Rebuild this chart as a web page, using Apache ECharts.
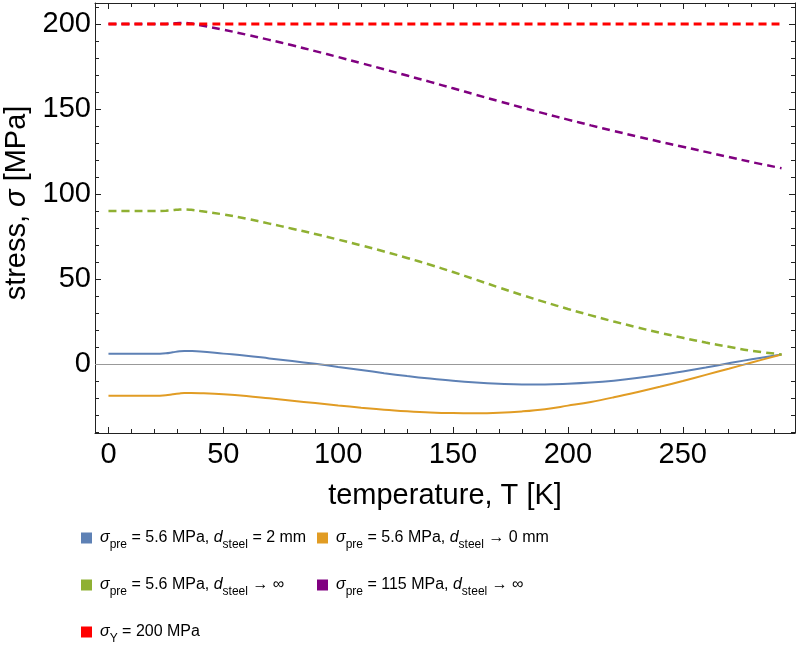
<!DOCTYPE html>
<html>
<head>
<meta charset="utf-8">
<script src="https://cdn.jsdelivr.net/npm/echarts@6/dist/echarts.min.js"></script>
<style>
html,body{margin:0;padding:0;background:#fff;}
#chart{width:796px;height:648px;}
</style>
</head>
<body>
<div id="chart"></div>
<script>
// ---- data ----
var tempK = [0, 10, 20, 25, 28, 31, 33, 36, 40, 50, 60, 70, 80, 90, 100, 110, 120, 130, 140, 150, 160, 170, 180, 190, 200, 210, 220, 230, 240, 250, 260, 270, 280, 293];
var stressSteel2mm = [6.0, 6.0, 6.0, 6.3, 6.9, 7.5, 7.7, 7.6, 7.3, 6.1, 4.9, 3.3, 1.7, 0.1, -1.7, -3.5, -5.4, -7.1, -8.6, -9.9, -10.9, -11.6, -12.0, -12.0, -11.6, -10.9, -9.8, -8.3, -6.5, -4.4, -2.1, 0.4, 2.8, 5.6];
var stressSteel0mm = [-18.7, -18.7, -18.7, -18.4, -17.8, -17.3, -17.1, -17.1, -17.2, -17.8, -18.8, -20.2, -21.6, -23.0, -24.4, -25.7, -26.9, -27.8, -28.5, -28.9, -29.0, -28.7, -27.9, -26.6, -24.5, -22.3, -19.6, -16.6, -13.4, -10.0, -6.4, -2.8, 0.9, 5.6];
var stressSteelInf = [90.0, 90.0, 90.0, 90.2, 90.5, 90.9, 91.0, 90.7, 90.0, 88.0, 85.5, 82.6, 79.6, 76.5, 73.2, 69.8, 66.2, 62.4, 58.4, 54.1, 49.6, 45.0, 40.6, 36.4, 32.4, 28.6, 25.0, 21.6, 18.4, 15.4, 12.6, 10.1, 7.8, 5.6];
var stressPre115 = [200.0, 200.0, 200.0, 200.1, 200.3, 200.6, 200.7, 200.3, 199.3, 196.7, 193.8, 190.7, 187.5, 184.1, 180.6, 177.0, 173.4, 169.7, 166.0, 162.2, 158.4, 154.6, 150.9, 147.3, 143.8, 140.4, 137.1, 133.9, 130.8, 127.8, 124.8, 121.8, 118.8, 115.2];
var yieldT = [0, 293];
var yieldStress = [200, 200];

var xMajorTicks = [0, 50, 100, 150, 200, 250];
var xMinorTicks = [10, 20, 30, 40, 60, 70, 80, 90, 110, 120, 130, 140, 160, 170, 180, 190, 210, 220, 230, 240, 260, 270, 280, 290];
var yMajorTicks = [0, 50, 100, 150, 200];
var yMinorTicks = [-40, -30, -20, -10, 10, 20, 30, 40, 60, 70, 80, 90, 110, 120, 130, 140, 160, 170, 180, 190, 210];

var legendLabels = {
  blue2mm: '{i|σ}{sub|pre}{n| = 5.6 MPa, }{i|d}{sub|steel}{n| = 2 mm}',
  orange0mm: '{i|σ}{sub|pre}{n| = 5.6 MPa, }{i|d}{sub|steel}{n| → 0 mm}',
  greenInf: '{i|σ}{sub|pre}{n| = 5.6 MPa, }{i|d}{sub|steel}{n| → ∞}',
  purpleInf: '{i|σ}{sub|pre}{n| = 115 MPa, }{i|d}{sub|steel}{n| → ∞}',
  redYield: '{i|σ}{sub|Y}{n| = 200 MPa}'
};

var X_MIN = -5.86, X_MAX = 298.86, Y_MIN = -40.6, Y_MAX = 212.4;
var FONT = '"Liberation Sans", Arial, sans-serif';
var AXFS = 29;
var LGFS = 16;

function zip(xs, ys) { return xs.map(function (x, i) { return [x, ys[i]]; }); }

var chart = echarts.init(document.getElementById('chart'), null, {renderer: 'canvas'});

function xAx(pos, major, showLine, label) {
  return {
    type: 'value', position: pos, min: X_MIN, max: X_MAX,
    axisLine: {show: showLine, onZero: false, lineStyle: {color: '#222', width: 1}},
    axisTick: {show: true, inside: true, length: major ? 6 : 4, customValues: major ? xMajorTicks : xMinorTicks, lineStyle: {color: '#222'}},
    axisLabel: label ? {show: true, customValues: xMajorTicks, fontSize: AXFS, color: '#000', fontFamily: FONT, margin: 7} : {show: false},
    splitLine: {show: false}
  };
}
function yAx(pos, major, showLine, label) {
  return {
    type: 'value', position: pos, min: Y_MIN, max: Y_MAX,
    axisLine: {show: showLine, onZero: false, lineStyle: {color: '#222', width: 1}},
    axisTick: {show: true, inside: true, length: major ? 6 : 4, customValues: major ? yMajorTicks : yMinorTicks, lineStyle: {color: '#222'}},
    axisLabel: label ? {show: true, customValues: yMajorTicks, fontSize: AXFS, color: '#000', fontFamily: FONT, margin: 4} : {show: false},
    splitLine: {show: false}
  };
}

var xAxes = [xAx('bottom', true, true, true), xAx('bottom', false, false, false), xAx('top', true, true, false), xAx('top', false, false, false)];
xAxes[0].name = 'temperature, T [K]';
xAxes[0].nameLocation = 'middle';
xAxes[0].nameGap = 48;
xAxes[0].nameTextStyle = {fontSize: AXFS, color: '#000', fontFamily: FONT};

var yAxes = [yAx('left', true, true, true), yAx('left', false, false, false), yAx('right', true, true, false), yAx('right', false, false, false)];
yAxes[0].name = '{n|stress, }{i|σ}{n| [MPa]}';
yAxes[0].nameLocation = 'middle';
yAxes[0].nameGap = 62;
yAxes[0].nameTextStyle = {
  color: '#000', fontFamily: FONT, fontSize: AXFS, padding: [0, 0, 0, 30],
  rich: {n: {fontSize: AXFS, fontFamily: FONT, color: '#000'}, i: {fontSize: AXFS, fontFamily: FONT, fontStyle: 'italic', color: '#000'}}
};

var richLegend = {
  n: {fontSize: LGFS, fontFamily: FONT, color: '#000', lineHeight: 26},
  i: {fontSize: LGFS, fontFamily: FONT, fontStyle: 'italic', color: '#000', lineHeight: 26},
  sub: {fontSize: 12, fontFamily: FONT, color: '#000', verticalAlign: 'bottom'}
};

var legendPos = [
  {name: 'blue2mm', left: 81, top: 530},
  {name: 'orange0mm', left: 317, top: 530},
  {name: 'greenInf', left: 81, top: 577},
  {name: 'purpleInf', left: 317, top: 577},
  {name: 'redYield', left: 81, top: 624}
];
var legends = legendPos.map(function (p) {
  return {
    data: [p.name], left: p.left, top: p.top, icon: 'rect', itemWidth: 11, itemHeight: 11, itemGap: 0,
    selectedMode: false, padding: 0,
    formatter: function (n) { return legendLabels[n]; },
    textStyle: {fontSize: LGFS, fontFamily: FONT, color: '#000', padding: [0, 0, 0, 3], rich: richLegend}
  };
});

function lineSeries(name, data, color, dashed, width) {
  return {
    name: name, type: 'line', xAxisIndex: 0, yAxisIndex: 0, data: data, showSymbol: false, symbol: 'none',
    smooth: 0.4, color: color, animation: false,
    lineStyle: {color: color, width: width, type: dashed ? [8, 5] : 'solid'}
  };
}

var series = [
  lineSeries('blue2mm', zip(tempK, stressSteel2mm), '#5E81B5', false, 2),
  lineSeries('orange0mm', zip(tempK, stressSteel0mm), '#E19C24', false, 2),
  lineSeries('greenInf', zip(tempK, stressSteelInf), '#8FB032', true, 2.5),
  lineSeries('purpleInf', zip(tempK, stressPre115), '#800080', true, 2.5),
  lineSeries('redYield', zip(yieldT, yieldStress), '#FF0000', true, 3)
];
series[0].markLine = {
  silent: true, symbol: 'none', label: {show: false}, animation: false,
  lineStyle: {color: '#999', width: 1, type: 'solid'},
  data: [{yAxis: 0}]
};

chart.setOption({
  animation: false,
  backgroundColor: '#fff',
  grid: {left: 95, right: 1, top: 3, bottom: 215, containLabel: false, outerBoundsMode: 'none'},
  xAxis: xAxes,
  yAxis: yAxes,
  legend: legends,
  series: series
});
</script>
</body>
</html>
